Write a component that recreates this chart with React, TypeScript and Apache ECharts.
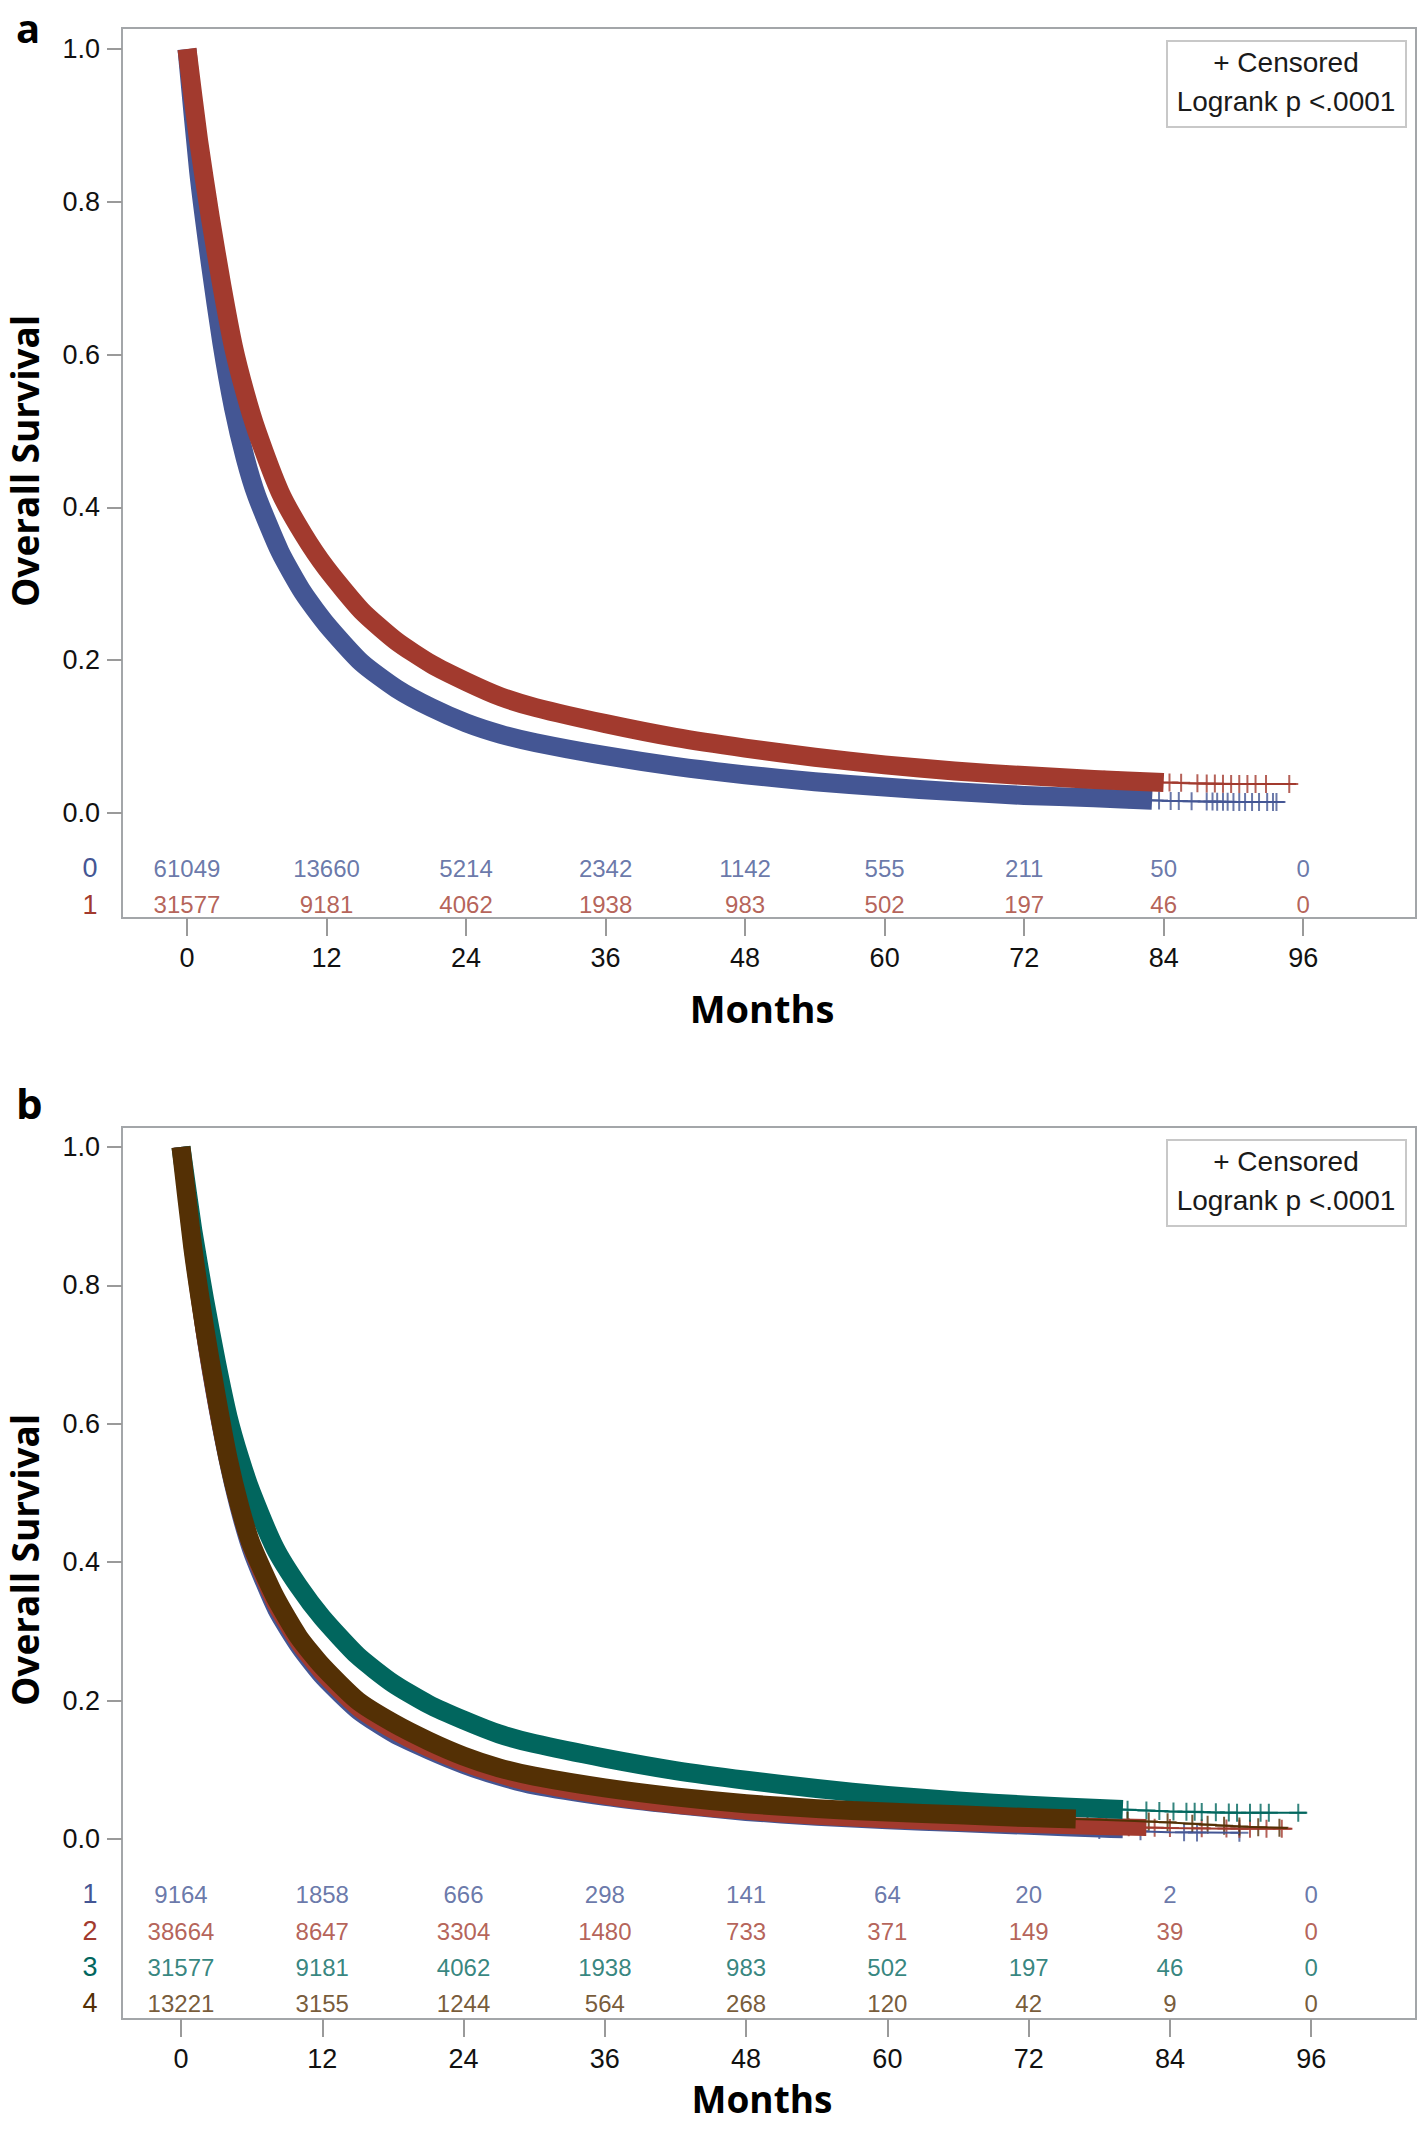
import React, { useEffect, useRef } from "react";
import * as echarts from "echarts";

// ---------- data ----------
const MONTH_TICKS = [0, 12, 24, 36, 48, 60, 72, 84, 96];
const SURV_TICKS = [0, 0.2, 0.4, 0.6, 0.8, 1.0];

// common read-off times (months)
const T = [0, 1, 2, 3, 4, 5, 6, 8, 10, 12, 15, 18, 21, 24, 27, 30, 36, 42, 48, 54, 60, 66, 72, 78, 84, 90];

// Panel a
const A_G0 = [1, 0.84, 0.72, 0.615, 0.53, 0.465, 0.415, 0.342, 0.288, 0.247, 0.197, 0.163, 0.138, 0.118, 0.103, 0.092, 0.075, 0.061, 0.05, 0.041, 0.034, 0.028, 0.023, 0.02, 0.016, 0.0145];
const A_G0_END = [94.4, 0.0144];
const A_G1 = [1, 0.88, 0.78, 0.69, 0.61, 0.55, 0.5, 0.42, 0.365, 0.32, 0.265, 0.225, 0.195, 0.172, 0.152, 0.138, 0.117, 0.099, 0.085, 0.073, 0.063, 0.055, 0.049, 0.044, 0.04, 0.038];
const A_G1_END = [95.4, 0.038];
const A_G0_CENS = [81.0, 82.2, 83.6, 84.6, 85.3, 86.4, 87.7, 88.2, 88.6, 89.1, 89.5, 90.0, 90.5, 91.0, 91.6, 92.2, 92.9, 93.4, 93.7];
const A_G1_CENS = [76.1, 77.7, 78.9, 80.1, 82.0, 84.5, 85.5, 86.9, 87.7, 88.4, 89.1, 89.8, 90.5, 91.2, 91.9, 92.8, 94.8];
const A_RISK_0 = [61049, 13660, 5214, 2342, 1142, 555, 211, 50, 0];
const A_RISK_1 = [31577, 9181, 4062, 1938, 983, 502, 197, 46, 0];

// Panel b
const B_G1 = [1, 0.845, 0.72, 0.62, 0.535, 0.465, 0.41, 0.33, 0.275, 0.232, 0.183, 0.15, 0.126, 0.105, 0.088, 0.075, 0.059, 0.047, 0.037, 0.03, 0.025, 0.021, 0.017, 0.013, 0.01];
const B_G1_END = [89.9, 0.009];
const B_G2 = [1, 0.85, 0.73, 0.63, 0.545, 0.475, 0.42, 0.34, 0.283, 0.24, 0.19, 0.157, 0.131, 0.11, 0.093, 0.08, 0.062, 0.049, 0.04, 0.033, 0.028, 0.024, 0.021, 0.018, 0.016, 0.015];
const B_G2_END = [94.4, 0.015];
const B_G3 = [1, 0.88, 0.78, 0.69, 0.61, 0.55, 0.5, 0.42, 0.365, 0.32, 0.265, 0.225, 0.195, 0.172, 0.152, 0.138, 0.117, 0.099, 0.085, 0.073, 0.063, 0.055, 0.049, 0.044, 0.04, 0.038];
const B_G3_END = [95.6, 0.038];
const B_G4 = [1, 0.855, 0.74, 0.64, 0.55, 0.48, 0.425, 0.35, 0.292, 0.25, 0.2, 0.168, 0.142, 0.12, 0.103, 0.091, 0.074, 0.061, 0.051, 0.044, 0.039, 0.035, 0.031, 0.028, 0.024, 0.018];
const B_G4_END = [94.0, 0.016];
const B_G1_CENS = [78.0, 81.5, 85.2, 86.3, 89.9];
const B_G2_CENS = [80.5, 82.7, 84.0, 86.7, 88.8, 89.9, 90.8, 92.2, 93.5];
const B_G3_CENS = [80.4, 82.0, 83.1, 84.3, 85.4, 86.1, 86.7, 87.9, 89.0, 89.7, 90.8, 91.7, 92.4, 94.9];
const B_G4_CENS = [74.3, 75.9, 77.0, 78.6, 80.4, 82.2, 83.8, 85.9, 87.2, 88.6, 89.9, 91.5, 93.3];
const B_RISK_1 = [9164, 1858, 666, 298, 141, 64, 20, 2, 0];
const B_RISK_2 = [38664, 8647, 3304, 1480, 733, 371, 149, 39, 0];
const B_RISK_3 = [31577, 9181, 4062, 1938, 983, 502, 197, 46, 0];
const B_RISK_4 = [13221, 3155, 1244, 564, 268, 120, 42, 9, 0];

// ---------- style ----------
const C1 = "#445694";
const C2 = "#A23A2E";
const C3 = "#01665E";
const C4 = "#543005";
const SANS = '"Liberation Sans", Arial, sans-serif';
const BOLD = '"Open Sans", sans-serif';
const PLUS = "path://M-1,-9H1V-1H9V1H1V9H-1V1H-9V-1H-1Z";

function curvePoints(surv: number[], end: number[]) {
  const xs = [...T.slice(0, surv.length), end[0]];
  const ys = [...surv, end[1]];
  return xs.map((x, i) => [x, ys[i]]);
}
function survAt(pts: number[][], t: number) {
  for (let i = 1; i < pts.length; i++) {
    if (t <= pts[i][0]) {
      const f = (t - pts[i - 1][0]) / (pts[i][0] - pts[i - 1][0]);
      return pts[i - 1][1] + f * (pts[i][1] - pts[i - 1][1]);
    }
  }
  return pts[pts.length - 1][1];
}

function kmSeries(axis: number, surv: number[], end: number[], cens: number[], thickEnd: number, color: string, width: number) {
  const pts = curvePoints(surv, end);
  const thick = pts.filter((p) => p[0] < thickEnd);
  thick.push([thickEnd, survAt(pts, thickEnd)]);
  const common = { xAxisIndex: axis, yAxisIndex: axis, silent: true, animation: false };
  return [
    { ...common, type: "line", data: pts, showSymbol: false, symbol: "none", smooth: 0.2, lineStyle: { color, width: 2 } },
    { ...common, type: "line", data: thick, showSymbol: false, symbol: "none", smooth: 0.2, lineStyle: { color, width, cap: "butt", join: "round" } },
    { ...common, type: "scatter", data: cens.map((t) => [t, survAt(pts, t)]), symbol: PLUS, symbolSize: 18, itemStyle: { color } },
  ];
}

function riskSeries(axis: number, counts: number[], rowY: number, color: string) {
  return {
    type: "scatter",
    xAxisIndex: axis,
    yAxisIndex: axis,
    silent: true,
    data: MONTH_TICKS.map((m, i) => [m, rowY, counts[i]]),
    symbol: "rect",
    symbolSize: 1,
    itemStyle: { color: "rgba(0,0,0,0)" },
    label: {
      show: true,
      position: "inside",
      formatter: (p: any) => String(p.value[2]),
      color,
      fontSize: 24,
      fontFamily: SANS,
    },
  };
}

function xAxisDef(grid: number, min: number, max: number) {
  return {
    type: "value",
    gridIndex: grid,
    min,
    max,
    axisLine: { show: false, onZero: false },
    splitLine: { show: false },
    axisTick: { show: true, length: 18, customValues: MONTH_TICKS, lineStyle: { color: "#9a9a9a", width: 2 } },
    axisLabel: { show: true, customValues: MONTH_TICKS, margin: 26, fontSize: 27, color: "#111", fontFamily: SANS },
  };
}
function yAxisDef(grid: number, min: number, max: number) {
  return {
    type: "value",
    gridIndex: grid,
    min,
    max,
    axisLine: { show: false, onZero: false },
    splitLine: { show: false },
    axisTick: { show: true, length: 15, customValues: SURV_TICKS, lineStyle: { color: "#9a9a9a", width: 2 } },
    axisLabel: {
      show: true,
      customValues: SURV_TICKS,
      margin: 22,
      fontSize: 27,
      color: "#111",
      fontFamily: SANS,
      formatter: (v: number) => v.toFixed(1),
    },
  };
}

function legendBox(top: number) {
  return [
    { type: "rect", shape: { x: 1167, y: top, width: 239, height: 86 }, style: { fill: "#fff", stroke: "#c8c8c8", lineWidth: 2 } },
    { type: "text", style: { text: "+ Censored", x: 1286, y: top + 21, align: "center", verticalAlign: "middle", font: `28px ${SANS}`, fill: "#1a1a1a" } },
    { type: "text", style: { text: "Logrank p <.0001", x: 1286, y: top + 60, align: "center", verticalAlign: "middle", font: `28px ${SANS}`, fill: "#1a1a1a" } },
  ];
}
function rowLabel(text: string, y: number, color: string) {
  return { type: "text", style: { text, x: 90, y, align: "center", verticalAlign: "middle", font: `27px ${SANS}`, fill: color } };
}

export default function App() {
  const ref = useRef<HTMLDivElement>(null);
  useEffect(() => {
    document.body.style.margin = "0";
    if (!ref.current) return;
    const chart = echarts.init(ref.current, undefined, { renderer: "svg" });
    const option: any = {
      animation: false,
      backgroundColor: "#fff",
      grid: [
        { left: 122, top: 28, width: 1294, height: 890, show: true, borderColor: "#a3a6a9", borderWidth: 2, backgroundColor: "#fff" },
        { left: 122, top: 1127, width: 1294, height: 892, show: true, borderColor: "#a3a6a9", borderWidth: 2, backgroundColor: "#fff" },
      ],
      xAxis: [xAxisDef(0, -5.59, 105.7), xAxisDef(1, -5.01, 104.9)],
      yAxis: [yAxisDef(0, -0.1374, 1.0275), yAxisDef(1, -0.26, 1.0289)],
      series: [
        ...kmSeries(0, A_G0, A_G0_END, A_G0_CENS, 83, C1, 19),
        ...kmSeries(0, A_G1, A_G1_END, A_G1_CENS, 84, C2, 19),
        riskSeries(0, A_RISK_0, -0.072, C1),
        riskSeries(0, A_RISK_1, -0.12, C2),
        ...kmSeries(1, B_G1, B_G1_END, B_G1_CENS, 80, C1, 15),
        ...kmSeries(1, B_G2, B_G2_END, B_G2_CENS, 82, C2, 17),
        ...kmSeries(1, B_G3, B_G3_END, B_G3_CENS, 80, C3, 19),
        ...kmSeries(1, B_G4, B_G4_END, B_G4_CENS, 76, C4, 19),
        riskSeries(1, B_RISK_1, -0.0795, C1),
        riskSeries(1, B_RISK_2, -0.133, C2),
        riskSeries(1, B_RISK_3, -0.185, C3),
        riskSeries(1, B_RISK_4, -0.237, C4),
      ],
      graphic: [
        { type: "text", style: { text: "a", x: 16, y: 27, align: "left", verticalAlign: "middle", font: `bold 40px ${BOLD}`, fill: "#000" } },
        { type: "text", style: { text: "b", x: 16, y: 1102, align: "left", verticalAlign: "middle", font: `bold 42px ${BOLD}`, fill: "#000" } },
        { type: "text", x: 24, y: 461, rotation: Math.PI / 2, style: { text: "Overall Survival", x: 0, y: 0, align: "center", verticalAlign: "middle", font: `bold 37px ${BOLD}`, fill: "#000" } },
        { type: "text", x: 24, y: 1560, rotation: Math.PI / 2, style: { text: "Overall Survival", x: 0, y: 0, align: "center", verticalAlign: "middle", font: `bold 37px ${BOLD}`, fill: "#000" } },
        { type: "text", style: { text: "Months", x: 762, y: 1008, align: "center", verticalAlign: "middle", font: `bold 38px ${BOLD}`, fill: "#000" } },
        { type: "text", style: { text: "Months", x: 762, y: 2098, align: "center", verticalAlign: "middle", font: `bold 37px ${BOLD}`, fill: "#000" } },
        ...legendBox(41),
        ...legendBox(1140),
        rowLabel("0", 868, C1),
        rowLabel("1", 905, C2),
        rowLabel("1", 1894, C1),
        rowLabel("2", 1931, C2),
        rowLabel("3", 1967, C3),
        rowLabel("4", 2003, C4),
      ],
    };
    chart.setOption(option);
    return () => chart.dispose();
  }, []);
  return <div ref={ref} style={{ position: "absolute", left: 0, top: 0, width: 1418, height: 2129 }} />;
}
